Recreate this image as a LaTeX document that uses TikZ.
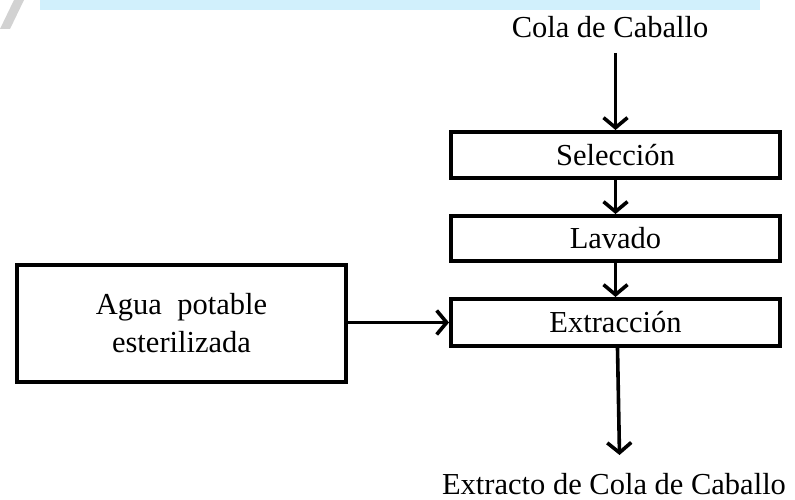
\documentclass[tikz,border=0pt]{standalone}
\usepackage{fontspec}
\setmainfont{Liberation Serif}
\usetikzlibrary{arrows.meta}
\begin{document}
\begin{tikzpicture}[x=1pt,y=1pt,
  box/.style={draw=black,line width=4pt,minimum width=329pt,inner sep=0pt,
    font=\fontsize{30.5}{38}\selectfont,align=center},
  lbl/.style={inner sep=0pt,font=\fontsize{30.5}{38}\selectfont},
  arr/.style={line width=3.6pt,-{Straight Barb[length=10pt,width=24pt,line width=3.6pt]}}]
\useasboundingbox (0,0) rectangle (795,499);
\fill[white] (0,0) rectangle (795,499);
\fill[cyan!18] (40,489) rectangle (760,499);
\fill[gray!35] (0,470) -- (14,499) -- (24,499) -- (10,470) -- cycle;
\node[lbl] (src) at (610,472) {Cola de Caballo};
\node[box,minimum height=46pt] (sel) at (615.5,344) {Selección};
\node[box,minimum height=45pt] (lav) at (615.5,260.5) {Lavado};
\node[box,minimum height=47pt] (ext) at (615.5,176.5) {Extracción};
\node[box,minimum height=117pt] (agua) at (181.5,175.5) {Agua \ potable\\esterilizada};
\node[lbl,anchor=base] (out) at (614,5) {Extracto de Cola de Caballo};
\coordinate (srcend) at (sel.north |- 0,446);
\draw[arr] (srcend) -- (sel.north);
\draw[arr] (sel.south) -- (lav.north);
\draw[arr] (lav.south) -- (ext.north);
\draw[arr] (agua.east |- ext.west) -- (ext.west);
\draw[arr] ([xshift=2pt]ext.south) -- ([xshift=4pt]ext.south |- 0,44);
\end{tikzpicture}
\end{document}
